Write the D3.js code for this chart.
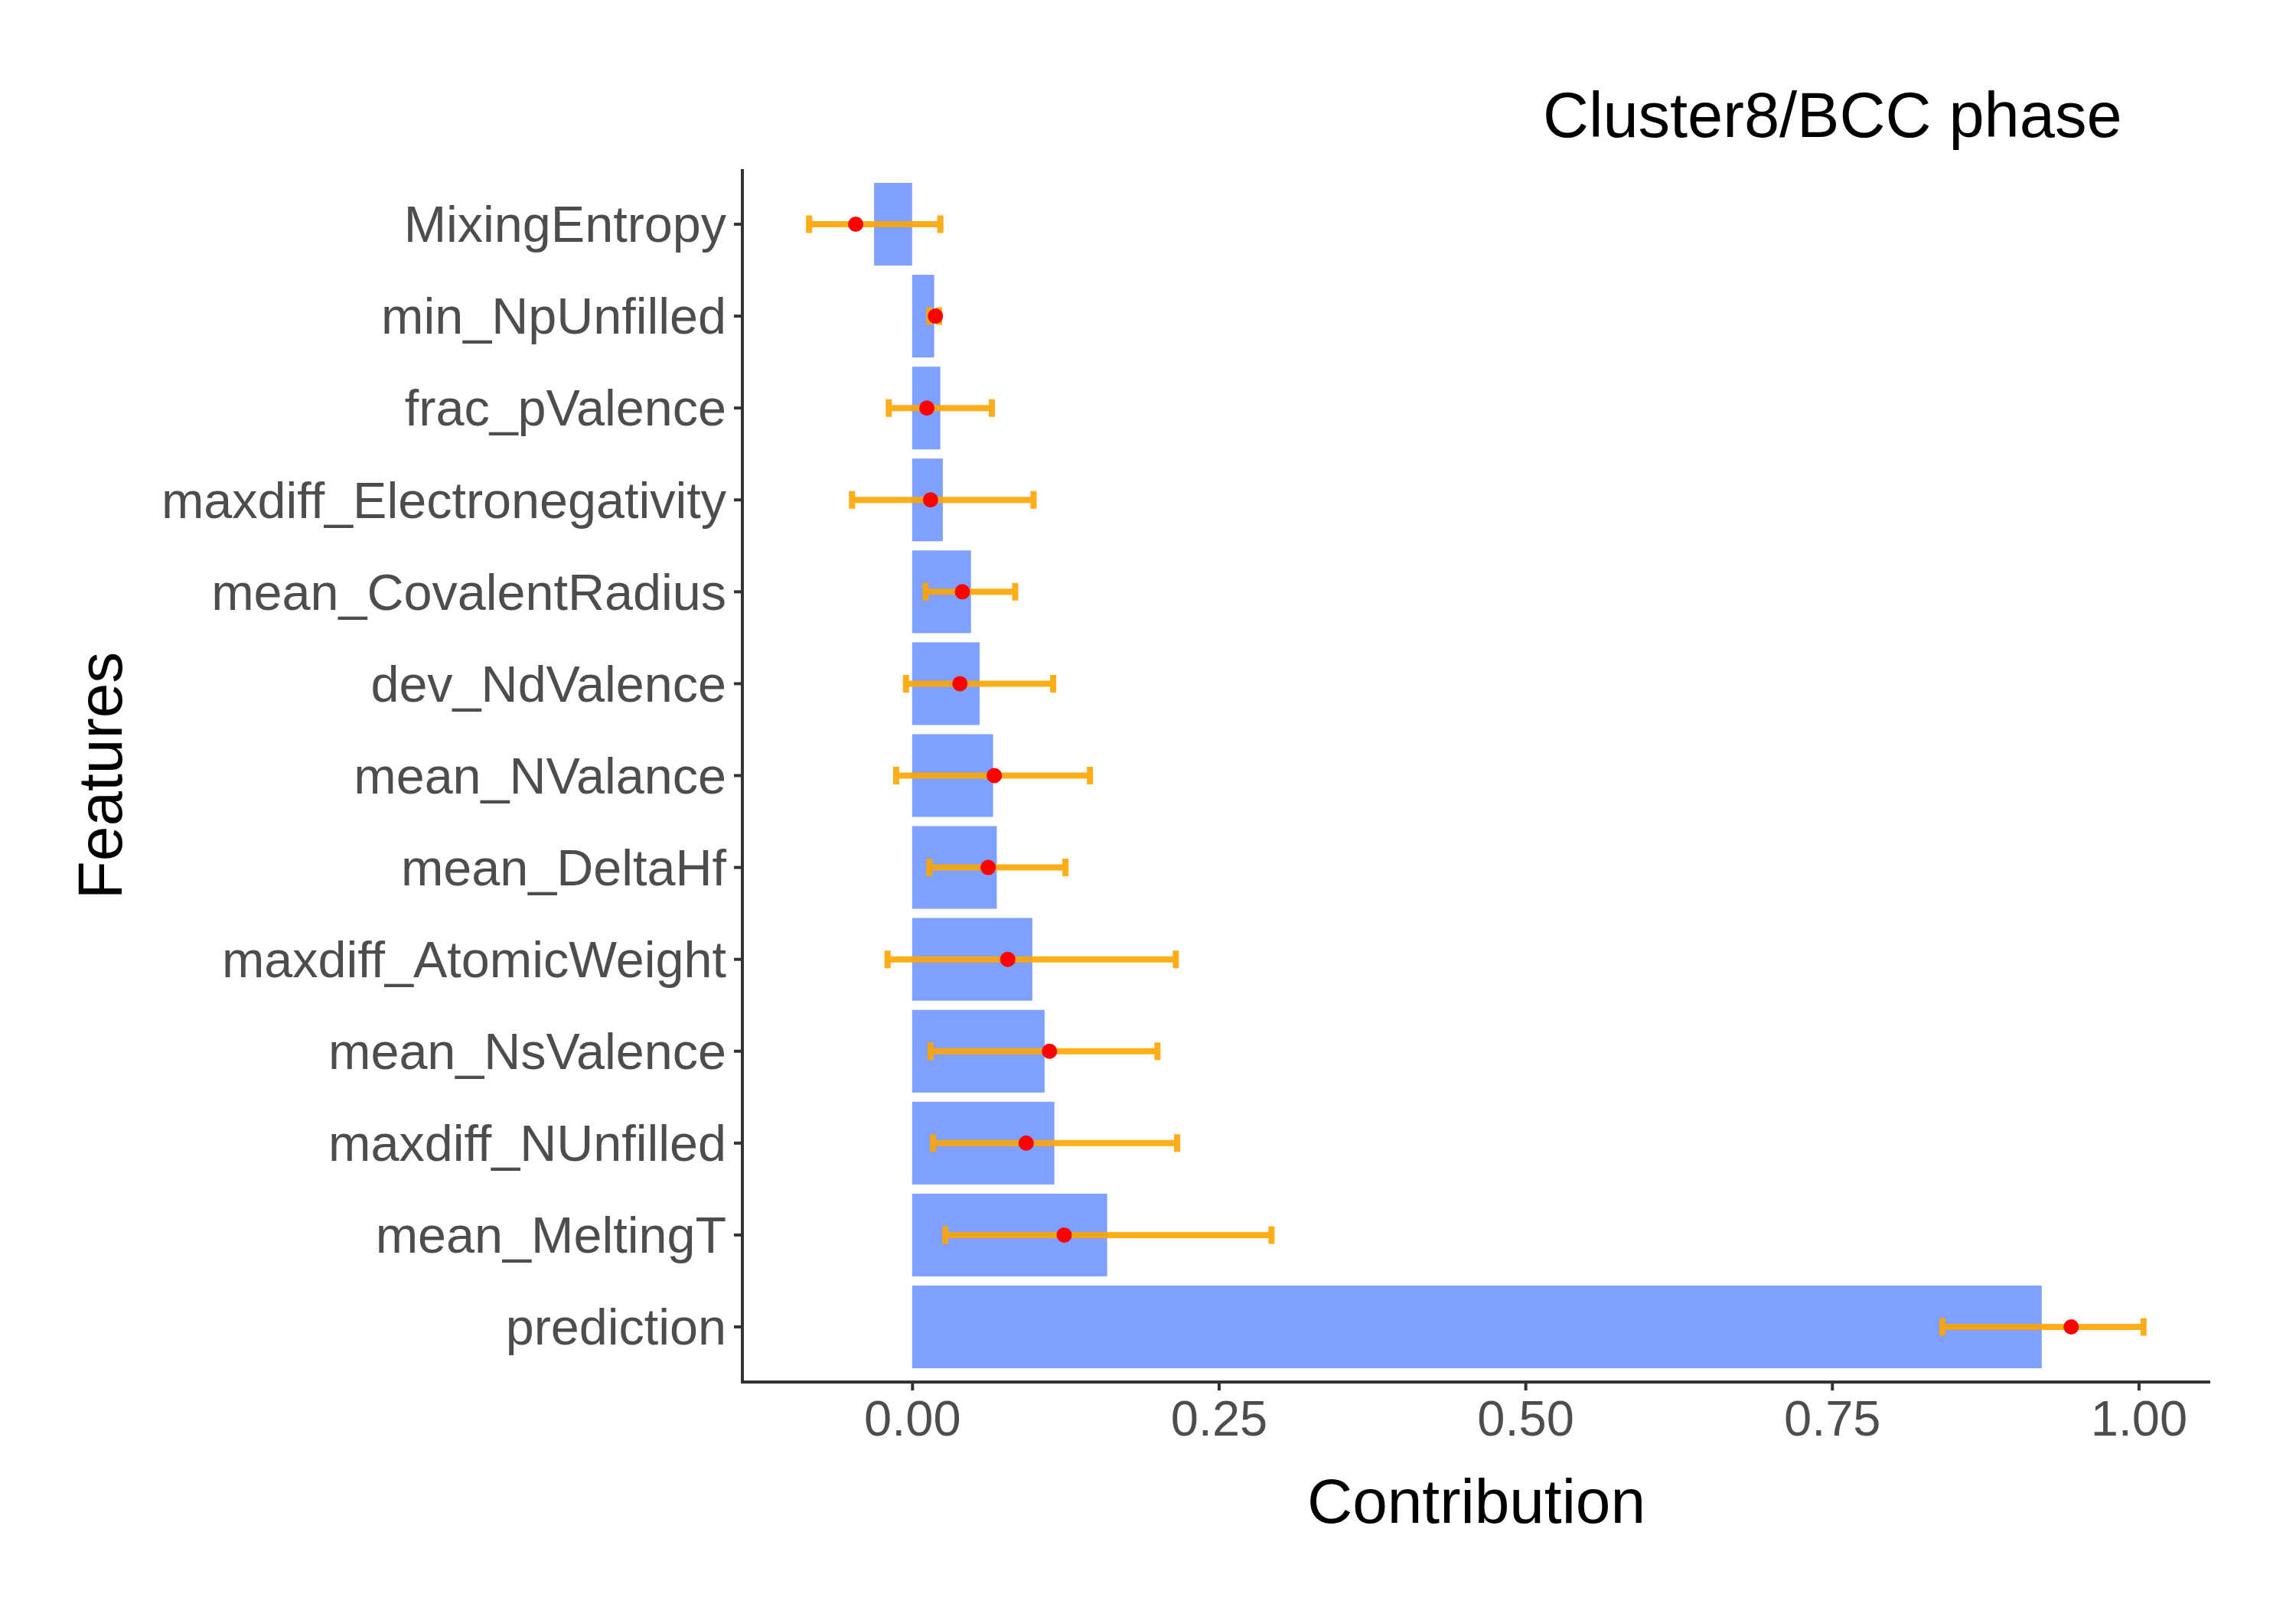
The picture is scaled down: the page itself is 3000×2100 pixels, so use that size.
<!DOCTYPE html>
<html>
<head>
<meta charset="utf-8">
<script src="https://cdn.jsdelivr.net/npm/d3@7"></script>
<style>
  body { margin: 0; background: #fff; }
  text { font-family: "Liberation Sans", Arial, Helvetica, sans-serif; }
</style>
</head>
<body>
<div id="chart"></div>
<script>
// features, top to bottom
const features = [
  "MixingEntropy", "min_NpUnfilled", "frac_pValence", "maxdiff_Electronegativity",
  "mean_CovalentRadius", "dev_NdValence", "mean_NValance", "mean_DeltaHf",
  "maxdiff_AtomicWeight", "mean_NsValence", "maxdiff_NUnfilled", "mean_MeltingT",
  "prediction"
];
// bar height (contribution)
const contribution = [-0.031, 0.018, 0.023, 0.025, 0.048, 0.055, 0.066, 0.069, 0.098, 0.108, 0.116, 0.159, 0.921];
// red point (mean)
const meanValue = [-0.046, 0.019, 0.012, 0.015, 0.041, 0.039, 0.067, 0.062, 0.078, 0.112, 0.093, 0.124, 0.945];
// error bar ends
const lower = [-0.084, 0.014, -0.019, -0.049, 0.011, -0.005, -0.013, 0.014, -0.020, 0.015, 0.017, 0.027, 0.840];
const upper = [0.023, 0.022, 0.065, 0.099, 0.084, 0.115, 0.145, 0.125, 0.215, 0.200, 0.216, 0.293, 1.004];
const xTicks = [0, 0.25, 0.5, 0.75, 1];

const W = 3000, H = 2100;
const plot = { left: 970, right: 2888, top: 221, bottom: 1806 };

const svg = d3.select("#chart").append("svg")
  .attr("width", W).attr("height", H);

const rows = features.map((f, i) => ({
  feature: f, value: contribution[i], mean: meanValue[i], lo: lower[i], hi: upper[i]
}));

// x domain like ggplot: range of everything drawn, plus 5%
const allX = [0].concat(contribution, meanValue, lower, upper);
const ext = d3.extent(allX);
const pad = (ext[1] - ext[0]) * 0.05;

const x = d3.scaleLinear()
  .domain([ext[0] - pad, ext[1] + pad])
  .range([plot.left, plot.right]);

const y = d3.scaleBand()
  .domain(features)
  .range([plot.top, plot.bottom])
  .paddingInner(0.1)
  .paddingOuter(0.15);

// ---- bars ----
svg.append("g").selectAll("rect")
  .data(rows).enter().append("rect")
  .attr("x", d => Math.min(x(0), x(d.value)))
  .attr("y", d => y(d.feature))
  .attr("width", d => Math.abs(x(d.value) - x(0)))
  .attr("height", y.bandwidth())
  .attr("fill", "#7fa0ff");

// ---- error bars ----
const capH = 11.5;
svg.append("g").selectAll("path")
  .data(rows).enter().append("path")
  .attr("d", d => {
    const cy = y(d.feature) + y.bandwidth() / 2;
    return "M" + x(d.lo) + "," + (cy - capH) + "V" + (cy + capH) +
      "M" + x(d.lo) + "," + cy + "H" + x(d.hi) +
      "M" + x(d.hi) + "," + (cy - capH) + "V" + (cy + capH);
  })
  .attr("fill", "none")
  .attr("stroke", "orange")
  .attr("stroke-opacity", 0.9)
  .attr("stroke-width", 8);

// ---- points ----
svg.append("g").selectAll("circle")
  .data(rows).enter().append("circle")
  .attr("cx", d => x(d.mean))
  .attr("cy", d => y(d.feature) + y.bandwidth() / 2)
  .attr("r", 10)
  .attr("fill", "red");

// ---- axes ----
const xAxis = d3.axisBottom(x).tickValues(xTicks)
  .tickFormat(d3.format(".2f")).tickSizeOuter(0).tickSize(11).tickPadding(12);
const yAxis = d3.axisLeft(y).tickSizeOuter(0).tickSize(11).tickPadding(10);

const xg = svg.append("g")
  .attr("transform", "translate(0," + plot.bottom + ")")
  .call(xAxis);
const yg = svg.append("g")
  .attr("transform", "translate(" + plot.left + ",0)")
  .call(yAxis);

[xg, yg].forEach(g => {
  g.select(".domain").remove();
  g.selectAll(".tick line").attr("stroke", "#333").attr("stroke-width", 4);
  g.selectAll(".tick text")
    .attr("fill", "#4d4d4d");
});
yg.selectAll(".tick text").attr("dy", "0.35em").style("font-size", "66.5px");
xg.selectAll(".tick text").attr("dy", "0.72em").style("font-size", "65px");

// axis lines
svg.append("line")
  .attr("x1", plot.left).attr("x2", plot.left)
  .attr("y1", plot.top).attr("y2", plot.bottom + 2)
  .attr("stroke", "#333").attr("stroke-width", 4);
svg.append("line")
  .attr("x1", plot.left - 2).attr("x2", plot.right)
  .attr("y1", plot.bottom).attr("y2", plot.bottom)
  .attr("stroke", "#333").attr("stroke-width", 4);

// ---- titles ----
svg.append("text")
  .attr("x", (plot.left + plot.right) / 2)
  .attr("y", 1990)
  .attr("text-anchor", "middle")
  .style("font-size", "82px")
  .attr("fill", "black")
  .text("Contribution");

svg.append("text")
  .attr("transform", "translate(159," + (plot.top + plot.bottom) / 2 + ") rotate(-90)")
  .attr("text-anchor", "middle")
  .style("font-size", "82px")
  .attr("fill", "black")
  .text("Features");

svg.append("text")
  .attr("x", 2016)
  .attr("y", 179)
  .attr("text-anchor", "start")
  .style("font-size", "83px")
  .attr("fill", "black")
  .text("Cluster8/BCC phase");
</script>
</body>
</html>
